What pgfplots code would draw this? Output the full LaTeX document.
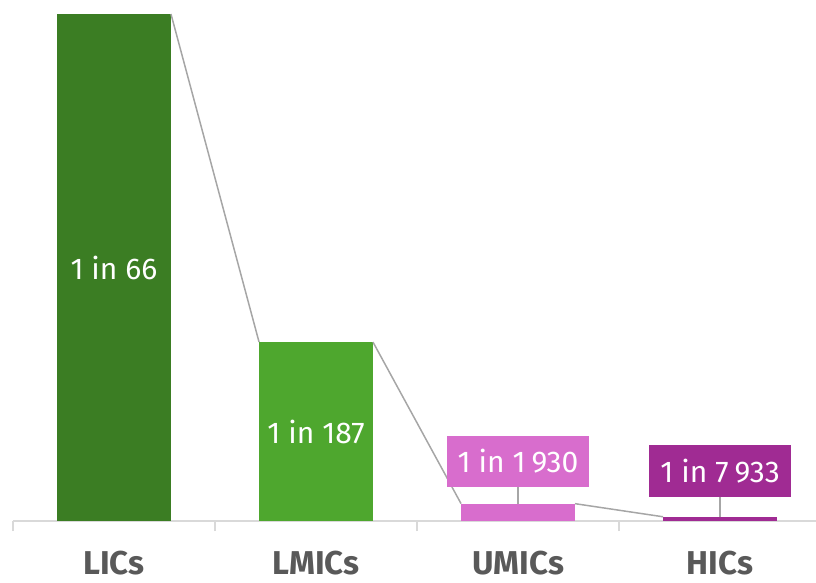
\documentclass[border=0pt]{standalone}
\usepackage{pgfplots}
\pgfplotsset{compat=1.18}
\usepackage{fontspec}
\setmainfont{Fira Sans}
\definecolor{licgreen}{HTML}{3B7D23}
\definecolor{lmicgreen}{HTML}{4EA72E}
\definecolor{umicpink}{HTML}{D86DCD}
\definecolor{hicpurple}{HTML}{A02B93}
\definecolor{axisgray}{HTML}{D9D9D9}
\definecolor{linegray}{HTML}{A6A6A6}
\definecolor{labelgray}{HTML}{595959}

% risk expressed per 100 000: 1/66, 1/187, 1/1930, 1/7933
\begin{document}
\begin{tikzpicture}
\begin{axis}[
    at={(13pt,61pt)}, anchor=south west,
    scale only axis,
    width=803pt, height=507pt,
    xmin=-0.5, xmax=3.475,
    ymin=0, ymax=1515.15,
    axis x line*=bottom,
    axis y line=none,
    axis line style={axisgray, line width=1.5pt},
    ybar, bar width=114pt, bar shift=0pt,
    xtick={0,1,2,3},
    xticklabels={LICs,LMICs,UMICs,HICs},
    major tick length=0pt,
    minor xtick={-0.5,0.5,1.5,2.5},
    minor tick length=10pt,
    tick align=outside,
    minor tick style={axisgray, line width=1.5pt},
    xticklabel shift=0pt,
    xticklabel style={anchor=base, yshift=-53pt, text=labelgray,
        font=\fontsize{33}{38}\selectfont\bfseries},
    clip=false,
]
\addplot[fill=licgreen, draw=none] coordinates {(0,1515.15)};
\addplot[fill=lmicgreen, draw=none] coordinates {(1,534.76)};
\addplot[fill=umicpink, draw=none] coordinates {(2,51.81)};
\addplot[fill=hicpurple, draw=none] coordinates {(3,12.61)};

% connectors between bar tops
\addplot[sharp plot, linegray, line width=1.5pt, mark=none]
    coordinates {(0.282,1515.15) (0.718,534.76)};
\addplot[sharp plot, linegray, line width=1.5pt, mark=none]
    coordinates {(1.282,534.76) (1.718,51.81)};
\addplot[sharp plot, linegray, line width=1.5pt, mark=none]
    coordinates {(2.282,51.81) (2.718,12.61)};

\node[text=white, font=\fontsize{30}{36}\selectfont] at (axis cs:0,757.6) {1 in 66};
\node[text=white, font=\fontsize{30}{36}\selectfont] at (axis cs:1,267.4) {1 in 187};

\node[fill=umicpink, text=white, font=\fontsize{30}{36}\selectfont,
      minimum height=51pt, inner xsep=11pt] (u) at (axis cs:2,179) {1 in 1\hspace{0.2em}930};
\node[fill=hicpurple, text=white, font=\fontsize{30}{36}\selectfont,
      minimum height=52pt, inner xsep=11pt] (h) at (axis cs:3,149) {1 in 7\hspace{0.2em}933};
\draw[linegray, line width=1.5pt] (axis cs:2,51.81) -- (u.south);
\draw[linegray, line width=1.5pt] (axis cs:3,12.61) -- (h.south);
\end{axis}
\pgfresetboundingbox
\path (0,0) rectangle (816pt,582pt);
\end{tikzpicture}
\end{document}
